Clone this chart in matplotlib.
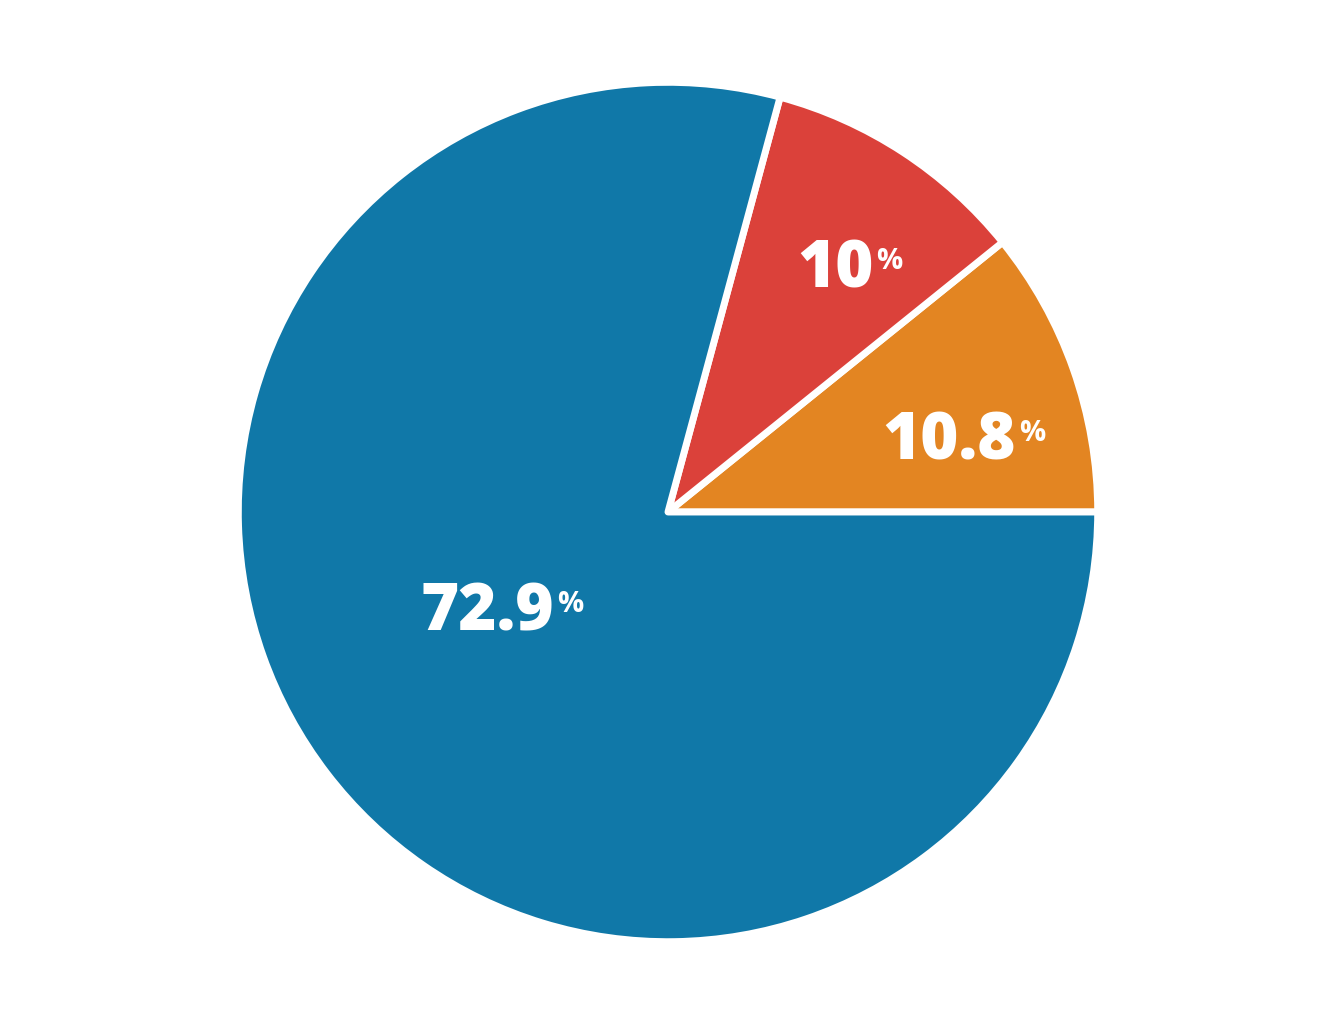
import matplotlib
matplotlib.use("Agg")
import matplotlib.pyplot as plt

# slice data (counter-clockwise from 3 o'clock)
labels = ["10.8", "10", "72.9"]
shares = [10.8, 10.0, 72.9]
colors = ["#E38522", "#DB413A", "#1078A8"]
label_pos = [(0.655, 0.162), (0.39, 0.561), (-0.42, -0.236)]

# the blue slice fills whatever the two small ones leave
sizes = [shares[0] / 100, shares[1] / 100, 1 - (shares[0] + shares[1]) / 100]

fig = plt.figure(figsize=(13.36, 10.24), dpi=100)
W, H = 1336, 1024
cx, cy, r = 668, 512, 434
ax = fig.add_axes([(cx - r) / W, (H - cy - r) / H, 2 * r / W, 2 * r / H])

ax.pie(sizes, colors=colors, startangle=0, counterclock=True, normalize=False,
       radius=1, wedgeprops=dict(edgecolor="white", linewidth=5, joinstyle="round"))
ax.set_xlim(-1.01, 1.01)
ax.set_ylim(-1.01, 1.01)
ax.set_aspect("equal")
ax.axis("off")

fam = ["Open Sans", "DejaVu Sans"]
for lab, (x, y) in zip(labels, label_pos):
    t = ax.text(x, y, lab, color="white", fontsize=47, fontweight="heavy",
                family=fam, ha="center", va="center")
    ax.annotate("%", xy=(1, 0.86), xycoords=t, xytext=(2, 0), textcoords="offset points",
                color="white", fontsize=21, fontweight="bold", family=fam,
                ha="left", va="top")

fig.savefig("out.png", dpi=100, facecolor="white")
